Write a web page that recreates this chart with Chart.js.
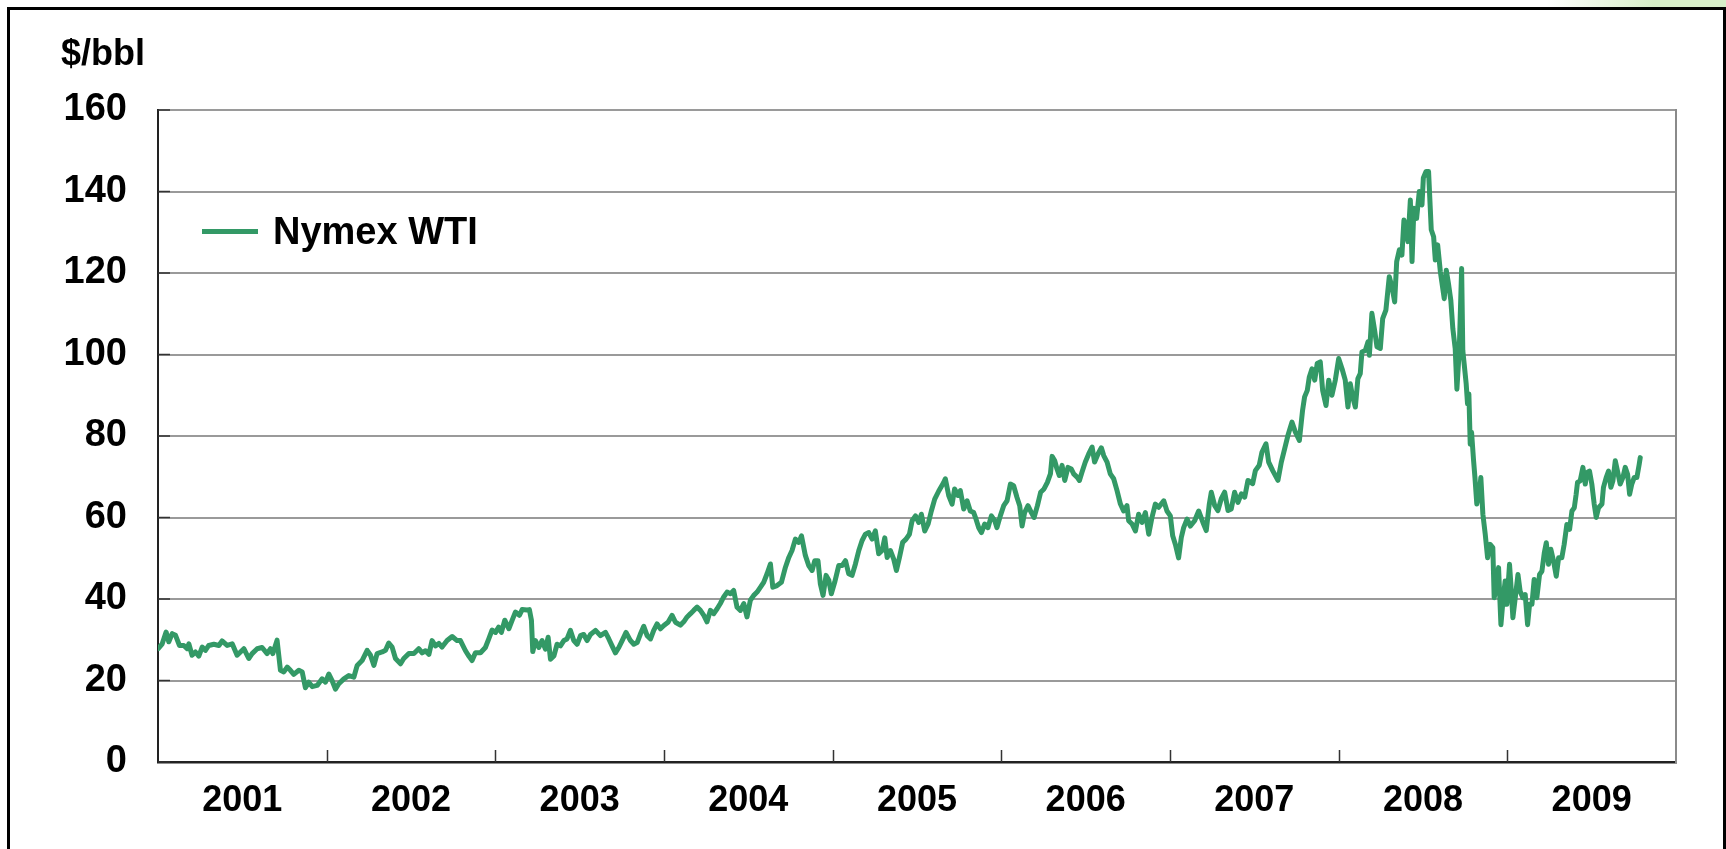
<!DOCTYPE html>
<html lang="en">
<head>
    <meta charset="UTF-8">
    <title>Nymex WTI</title>
    <script src="https://cdn.jsdelivr.net/npm/chart.js@4.4.0/dist/chart.umd.min.js"></script>
    <style>
        :root {
            --wti-color: #339966;
            --text-color: #000000;
        }
        body {
            margin: 0;
            background: #ffffff;
            overflow: hidden;
            font-family: 'Liberation Sans', Arial, sans-serif;
        }
        .page {
            position: relative;
            width: 1726px;
            height: 849px;
            overflow: hidden;
        }
        .corner {
            position: absolute;
            right: 0;
            top: 0;
            width: 180px;
            height: 8px;
            background: linear-gradient(to right, rgba(215,238,200,0), #d7eec8 60%);
        }
        .frame {
            position: absolute;
            left: 7px;
            top: 7px;
            width: 1713px;
            height: 900px;
            border: 3px solid #000;
        }
        .chart-box {
            position: absolute;
            left: 0;
            top: 0;
            width: 1726px;
            height: 849px;
        }
        .unit {
            position: absolute;
            left: 61px;
            top: 35px;
            font-size: 36px;
            line-height: 36px;
            font-weight: bold;
            color: var(--text-color);
        }
        .legend {
            position: absolute;
            left: 202px;
            top: 212px;
            display: flex;
            align-items: center;
        }
        .legend .swatch {
            width: 56px;
            height: 5px;
            background: var(--wti-color);
            margin-right: 15px;
        }
        .legend .label {
            font-size: 38px;
            line-height: 38px;
            font-weight: bold;
            color: var(--text-color);
        }
    </style>
</head>
<body>
    <div class="page">
        <div class="corner"></div>
        <div class="frame"></div>
        <div class="chart-box"><canvas id="chart"></canvas></div>
        <div class="unit">$/bbl</div>
        <div class="legend"><span class="swatch"></span><span class="label">Nymex WTI</span></div>
    </div>

    <script>
        // Nymex WTI front month, $/bbl, as [decimal year, price]
        const wti2001 = [[2001.001,27.8],[2001.025,29],[2001.048,31.9],[2001.064,29.5],[2001.084,31.5],[2001.104,31.1],[2001.127,28.6],[2001.153,28.6],[2001.173,27.8],[2001.183,29],[2001.202,26.2],[2001.222,27],[2001.242,26],[2001.262,28.2],[2001.281,27.4],[2001.301,28.6],[2001.331,28.9],[2001.361,28.6],[2001.380,29.7],[2001.410,28.6],[2001.440,29],[2001.469,26.2],[2001.489,27],[2001.509,27.8],[2001.538,25.4],[2001.558,26.6],[2001.588,27.8],[2001.617,28.1],[2001.647,26.6],[2001.667,27.8],[2001.681,26.6],[2001.706,29.9],[2001.726,22.5],[2001.746,22.1],[2001.766,23.3],[2001.785,22.5],[2001.805,21.5],[2001.835,22.5],[2001.855,22.1],[2001.874,18.2],[2001.894,19.6],[2001.914,18.5],[2001.944,18.8],[2001.973,20.4],[2001.993,19.6]];
        const wti2002 = [[2002.013,21.6],[2002.032,20],[2002.052,17.9],[2002.072,19.2],[2002.102,20.4],[2002.131,21.2],[2002.161,20.8],[2002.181,23.7],[2002.210,24.9],[2002.240,27.4],[2002.260,26.2],[2002.280,23.7],[2002.299,26.6],[2002.329,27],[2002.349,27.4],[2002.368,29.2],[2002.388,28.2],[2002.408,25.4],[2002.438,24.1],[2002.457,25.4],[2002.487,26.6],[2002.517,26.6],[2002.546,27.8],[2002.566,26.8],[2002.586,27.3],[2002.606,26.4],[2002.625,29.8],[2002.645,28.5],[2002.665,29.1],[2002.684,28.2],[2002.714,29.8],[2002.744,30.8],[2002.773,29.8],[2002.793,29.8],[2002.823,27.3],[2002.843,26],[2002.862,24.9],[2002.882,26.8],[2002.912,26.8],[2002.941,28.1],[2002.961,30.2],[2002.981,32.4]];
        const wti2003 = [[2003.001,31.8],[2003.020,33.1],[2003.036,31.8],[2003.056,34.8],[2003.080,32.7],[2003.100,34.8],[2003.119,36.8],[2003.143,36],[2003.159,37.4],[2003.188,37.3],[2003.202,37.4],[2003.214,34.8],[2003.222,27.1],[2003.238,29.8],[2003.258,28.1],[2003.277,29.8],[2003.297,27.7],[2003.313,30.6],[2003.327,25.2],[2003.347,26],[2003.366,28.9],[2003.386,28.5],[2003.406,29.8],[2003.425,30.2],[2003.445,32.3],[2003.465,29.8],[2003.485,28.9],[2003.505,31],[2003.524,31.3],[2003.544,29.8],[2003.564,31.3],[2003.594,32.3],[2003.623,31],[2003.653,31.8],[2003.673,30.2],[2003.692,28.5],[2003.712,26.8],[2003.732,28.1],[2003.752,29.8],[2003.775,31.8],[2003.801,29.8],[2003.821,28.9],[2003.841,29.3],[2003.860,31.4],[2003.880,33.3],[2003.900,31],[2003.920,30.2],[2003.939,32.3],[2003.959,33.9],[2003.979,32.7],[2003.999,33.5]];
        const wti2004 = [[2004.024,34.3],[2004.048,36],[2004.068,34.3],[2004.097,33.6],[2004.117,34.4],[2004.137,35.6],[2004.157,36.4],[2004.176,37.2],[2004.196,38],[2004.216,37.2],[2004.236,36],[2004.255,34.4],[2004.275,37.2],[2004.295,36.4],[2004.315,37.6],[2004.334,38.9],[2004.354,40.5],[2004.374,41.7],[2004.394,41.3],[2004.413,42.1],[2004.433,38],[2004.453,37.2],[2004.473,38.9],[2004.492,35.6],[2004.512,39.7],[2004.532,40.9],[2004.552,41.7],[2004.572,42.9],[2004.591,44.1],[2004.611,46.2],[2004.631,48.6],[2004.645,42.9],[2004.670,43.3],[2004.696,44.1],[2004.720,47.8],[2004.740,50.2],[2004.759,51.9],[2004.779,54.7],[2004.799,53.9],[2004.815,55.5],[2004.838,50.7],[2004.858,48.2],[2004.878,47],[2004.894,49.4],[2004.913,49.4],[2004.927,43.7],[2004.943,40.9],[2004.961,45.8],[2004.977,44.6],[2004.992,41.3]];
        const wti2005 = [[2005.012,44.1],[2005.036,48.2],[2005.056,48.2],[2005.076,49.4],[2005.095,46.2],[2005.115,45.8],[2005.135,48.6],[2005.155,51.9],[2005.174,54.3],[2005.194,55.9],[2005.214,56.3],[2005.234,54.7],[2005.253,56.7],[2005.273,51.1],[2005.293,51.9],[2005.309,55],[2005.323,50.2],[2005.342,51.9],[2005.362,49.8],[2005.378,47],[2005.396,50.2],[2005.415,53.9],[2005.435,54.7],[2005.455,55.9],[2005.471,59.2],[2005.491,60.4],[2005.510,58.8],[2005.526,60.8],[2005.546,56.7],[2005.566,58.4],[2005.585,61.6],[2005.605,64.5],[2005.629,66.5],[2005.658,68.6],[2005.668,69.5],[2005.688,65.4],[2005.708,63.3],[2005.723,67],[2005.743,65.4],[2005.757,66.6],[2005.777,62.1],[2005.797,64.1],[2005.816,61.6],[2005.836,61.2],[2005.850,59.6],[2005.866,57.5],[2005.882,56.3],[2005.901,58.4],[2005.921,57.5],[2005.941,60.4],[2005.961,59.2],[2005.974,57.5],[2005.994,60.4]];
        const wti2006 = [[2006.014,62.9],[2006.034,64.1],[2006.054,68.2],[2006.073,67.8],[2006.093,64.9],[2006.109,62.9],[2006.123,57.9],[2006.138,61.2],[2006.158,62.9],[2006.178,61.2],[2006.194,60],[2006.214,62.9],[2006.233,66.2],[2006.253,67],[2006.273,68.6],[2006.291,70.7],[2006.301,75],[2006.316,74],[2006.330,71.9],[2006.344,70.3],[2006.360,72.8],[2006.376,69.1],[2006.395,72.3],[2006.415,71.9],[2006.429,70.7],[2006.449,69.9],[2006.463,69.1],[2006.478,71.1],[2006.498,73.6],[2006.518,75.6],[2006.538,77.3],[2006.553,73.6],[2006.573,75.6],[2006.593,77.1],[2006.607,75.2],[2006.627,73.6],[2006.646,70.7],[2006.666,69.5],[2006.686,66.6],[2006.706,63.3],[2006.725,61.6],[2006.745,62.9],[2006.755,59.2],[2006.775,58.4],[2006.795,56.7],[2006.814,60.8],[2006.834,58.8],[2006.854,61.2],[2006.874,55.9],[2006.893,60],[2006.913,63.3],[2006.933,62.5],[2006.963,64.1],[2006.982,61.6]];
        const wti2007 = [[2007.002,60.4],[2007.016,55.5],[2007.032,53.4],[2007.051,50.1],[2007.067,55.1],[2007.081,57.5],[2007.101,59.6],[2007.121,57.9],[2007.146,59.2],[2007.170,61.6],[2007.199,58.4],[2007.215,56.8],[2007.233,63.3],[2007.245,66.2],[2007.265,62.9],[2007.284,61.7],[2007.304,64.6],[2007.324,66.2],[2007.344,61.7],[2007.363,62.1],[2007.383,66.2],[2007.403,63.7],[2007.423,65.8],[2007.443,65],[2007.462,69.1],[2007.490,68.3],[2007.506,71.5],[2007.529,72.8],[2007.545,76],[2007.569,78.1],[2007.585,73.6],[2007.609,71.5],[2007.640,69.1],[2007.660,73.6],[2007.680,76.9],[2007.699,80.1],[2007.723,83.4],[2007.743,81],[2007.767,78.9],[2007.786,86.3],[2007.798,89.6],[2007.814,91.2],[2007.826,94.5],[2007.842,96.5],[2007.858,93.7],[2007.873,97.8],[2007.891,98.2],[2007.905,91.2],[2007.925,87.5],[2007.941,93.7],[2007.960,90],[2007.980,93.7]];
        const wti2008 = [[2008.000,99],[2008.020,96.5],[2008.039,93.7],[2008.055,87.1],[2008.069,92.8],[2008.083,89.6],[2008.099,87.1],[2008.114,94.1],[2008.128,95.3],[2008.138,100.6],[2008.158,101],[2008.174,103.1],[2008.182,99.8],[2008.197,110.1],[2008.213,106],[2008.227,101.9],[2008.247,101.5],[2008.261,108.8],[2008.280,110.9],[2008.300,119.1],[2008.316,116.6],[2008.332,112.9],[2008.344,122.8],[2008.360,125.7],[2008.375,124.4],[2008.387,133],[2008.399,131.4],[2008.411,127.7],[2008.425,137.9],[2008.435,122.8],[2008.446,135.9],[2008.462,133.4],[2008.478,140],[2008.494,136.7],[2008.502,143.3],[2008.518,144.9],[2008.533,144.9],[2008.543,135.9],[2008.549,130.6],[2008.563,128.9],[2008.573,123.2],[2008.587,126.9],[2008.603,120.3],[2008.626,113.7],[2008.638,120.7],[2008.651,117.4],[2008.665,113.3],[2008.677,106.3],[2008.691,101.4],[2008.701,91.5],[2008.715,101],[2008.729,121.1],[2008.736,101],[2008.744,97.7],[2008.756,92.8],[2008.764,87.9],[2008.772,90.3],[2008.780,78],[2008.788,80.9],[2008.800,73.9],[2008.808,69.8],[2008.819,63.3],[2008.835,66.5],[2008.843,69.8],[2008.855,60.8],[2008.869,55.9],[2008.883,50.1],[2008.898,53.4],[2008.914,52.6],[2008.922,40.3],[2008.934,42.8],[2008.948,47.7],[2008.962,33.7],[2008.974,39.5],[2008.987,44.4],[2008.997,38.7]];
        const wti2009 = [[2009.013,48.5],[2009.021,43.6],[2009.033,35.4],[2009.047,40.3],[2009.063,46],[2009.076,41.9],[2009.092,40.3],[2009.106,41.1],[2009.120,33.7],[2009.132,38.7],[2009.146,38.7],[2009.159,44.8],[2009.175,40.3],[2009.191,46],[2009.205,46.8],[2009.219,51.3],[2009.231,53.8],[2009.244,48.5],[2009.258,52.2],[2009.274,49.3],[2009.290,45.6],[2009.304,50.1],[2009.323,50.1],[2009.337,53.4],[2009.353,58.3],[2009.369,57.1],[2009.383,61.6],[2009.397,62.4],[2009.408,65.7],[2009.416,68.6],[2009.432,69],[2009.448,72.3],[2009.462,68.2],[2009.472,71],[2009.487,71.4],[2009.501,68.2],[2009.515,63.3],[2009.527,60],[2009.541,62.4],[2009.561,63.3],[2009.570,67.4],[2009.586,69.8],[2009.600,71.4],[2009.614,67.4],[2009.626,69],[2009.640,73.9],[2009.653,71.4],[2009.669,68.2],[2009.685,69.8],[2009.699,72.3],[2009.713,70.6],[2009.725,65.7],[2009.738,68.2],[2009.752,69.8],[2009.768,69.8],[2009.782,73.1],[2009.788,74.7]];

        const yearLabels = ['2001', '2002', '2003', '2004', '2005', '2006', '2007', '2008', '2009'];
        const yTicks = [0, 20, 40, 60, 80, 100, 120, 140, 160];

        const FONT = "'Liberation Sans', Arial, sans-serif";
        const firstYear = Number(yearLabels[0]);
        const lastYear = Number(yearLabels[yearLabels.length - 1]) + 1;

        const points = [wti2001, wti2002, wti2003, wti2004, wti2005, wti2006, wti2007, wti2008, wti2009]
            .flat()
            .map(([x, y]) => ({ x, y }));

        // short inward tick marks on both axes, like the original
        const innerTicks = {
            id: 'innerTicks',
            beforeDatasetsDraw(chart) {
                const { ctx, chartArea, scales } = chart;
                ctx.save();
                ctx.strokeStyle = '#333';
                ctx.lineWidth = 1.5;
                ctx.beginPath();
                for (let yr = firstYear + 1; yr < lastYear; yr++) {
                    const px = Math.round(scales.x.getPixelForValue(yr)) + 0.5;
                    ctx.moveTo(px, chartArea.bottom);
                    ctx.lineTo(px, chartArea.bottom - 12);
                }
                yTicks.forEach(v => {
                    const py = scales.y.getPixelForValue(v);
                    ctx.moveTo(chartArea.left, py);
                    ctx.lineTo(chartArea.left + 12, py);
                });
                ctx.stroke();
                ctx.restore();
            }
        };

        new Chart(document.getElementById('chart'), {
            type: 'line',
            data: {
                datasets: [{
                    label: 'Nymex WTI',
                    data: points,
                    borderColor: '#339966',
                    borderWidth: 5,
                    pointRadius: 0,
                    tension: 0,
                    borderJoinStyle: 'round',
                    borderCapStyle: 'round'
                }]
            },
            options: {
                responsive: true,
                maintainAspectRatio: false,
                animation: false,
                layout: {
                    padding: { top: 110, right: 50, bottom: 27, left: 0 }
                },
                plugins: {
                    legend: { display: false },
                    tooltip: { enabled: false }
                },
                scales: {
                    x: {
                        type: 'linear',
                        min: firstYear,
                        max: lastYear,
                        afterBuildTicks: scale => {
                            scale.ticks = yearLabels.map((_, i) => ({ value: firstYear + i + 0.5 }));
                        },
                        afterFit: scale => { scale.height = 60; },
                        ticks: {
                            autoSkip: false,
                            maxRotation: 0,
                            padding: 17,
                            color: '#000',
                            font: { family: FONT, size: 36, weight: 'bold' },
                            callback: value => yearLabels[Math.floor(value) - firstYear]
                        },
                        grid: { display: false, drawTicks: false },
                        border: { display: true, color: '#222', width: 2.5 }
                    },
                    y: {
                        min: 0,
                        max: 160,
                        afterBuildTicks: scale => {
                            scale.ticks = yTicks.map(v => ({ value: v }));
                        },
                        afterFit: scale => { scale.width = 158; },
                        ticks: {
                            padding: 31,
                            color: '#000',
                            font: { family: FONT, size: 38, weight: 'bold' }
                        },
                        grid: { color: '#9a9a9a', lineWidth: 2, drawTicks: false },
                        border: { display: true, color: '#222', width: 2 }
                    },
                    y2: {
                        position: 'right',
                        min: 0,
                        max: 160,
                        afterFit: scale => { scale.width = 0; },
                        ticks: { display: false },
                        grid: { drawOnChartArea: false, drawTicks: false },
                        border: { display: true, color: '#8a8a8a', width: 2 }
                    }
                }
            },
            plugins: [innerTicks]
        });
    </script>
</body>
</html>
